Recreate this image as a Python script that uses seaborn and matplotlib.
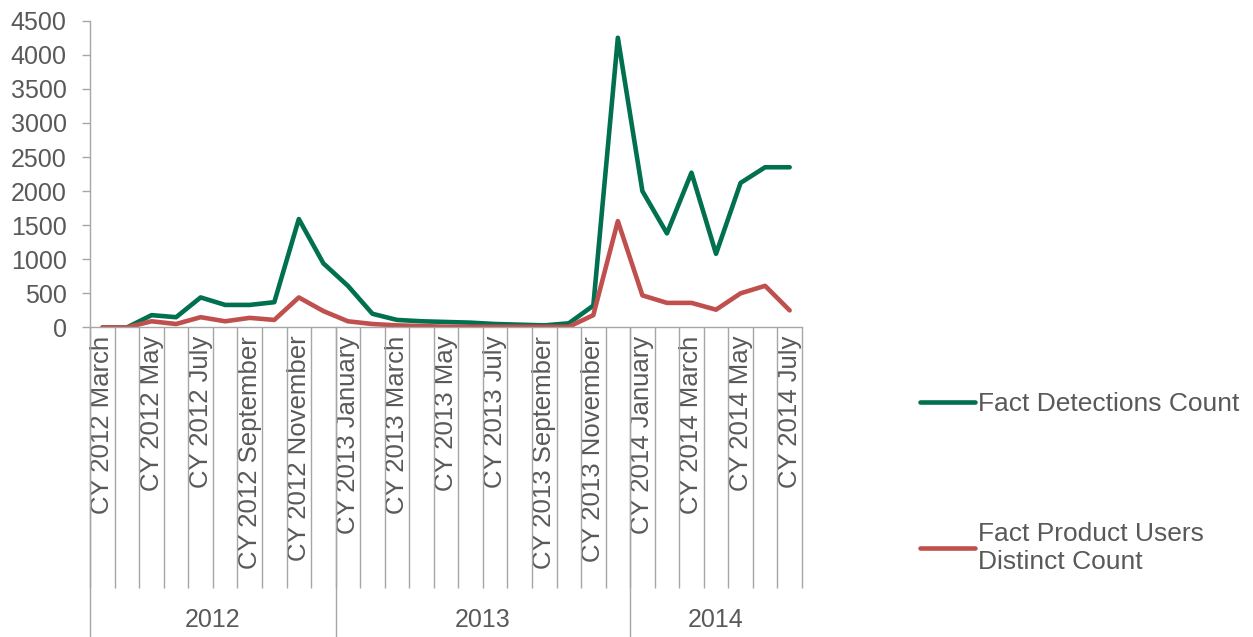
import pandas as pd
import numpy as np
import matplotlib.pyplot as plt
import seaborn as sns

# --- Data ---
months_2012 = ['March', 'April', 'May', 'June', 'July', 'August', 'September', 'October', 'November', 'December']
months_2013 = ['January', 'February', 'March', 'April', 'May', 'June', 'July', 'August', 'September', 'October', 'November', 'December']
months_2014 = ['January', 'February', 'March', 'April', 'May', 'June', 'July']
years = ['2012', '2013', '2014']

categories = ([f'CY 2012 {m}' for m in months_2012]
              + [f'CY 2013 {m}' for m in months_2013]
              + [f'CY 2014 {m}' for m in months_2014])

detections = [0, 0, 180, 150, 440, 330, 330, 370, 1590, 940,
              610, 200, 110, 90, 80, 70, 50, 40, 30, 60, 320, 4250,
              2000, 1380, 2270, 1080, 2120, 2350, 2350]
users = [0, 0, 90, 50, 150, 90, 140, 110, 440, 240,
         90, 50, 30, 20, 10, 10, 10, 10, 10, 10, 180, 1560,
         470, 360, 360, 260, 500, 610, 250]

series_names = ['Fact Detections Count', 'Fact Product Users\nDistinct Count']
colors = ['#00704F', '#C0504D']

df = pd.DataFrame({
    'idx': list(range(len(categories))) * 2,
    'value': detections + users,
    'series': [series_names[0]] * len(categories) + [series_names[1]] * len(categories),
})

sns.set_style('white')
plt.rcParams['font.family'] = ['Liberation Sans', 'DejaVu Sans']
grey = '#595959'
line_grey = '#A6A6A6'

fig = plt.figure(figsize=(12.53, 6.37), dpi=100)
ax = fig.add_axes([0.072, 0.486, 0.568, 0.4815])

sns.lineplot(data=df, x='idx', y='value', hue='series', palette=colors,
             linewidth=3.3, ax=ax, legend=False)

n = len(categories)
ax.set_xlim(-0.5, n - 0.5)
ax.set_ylim(0, 4500)
ax.set_yticks(range(0, 4501, 500))
ax.tick_params(axis='y', left=True, colors=line_grey, labelcolor=grey,
               labelsize=18, length=6, width=1, pad=11)

# category labels every other month, boundary lines as long minor ticks
ax.set_xticks(range(0, n, 2))
ax.set_xticklabels(categories[::2], rotation=90, fontsize=18.5, color=grey)
ax.tick_params(axis='x', which='major', length=0, pad=6)
ax.set_xticks(np.arange(-0.5, n, 1), minor=True)
ax.tick_params(axis='x', which='minor', bottom=True, length=188, width=1,
               color=line_grey, direction='out')

ax.set_xlabel('')
ax.set_ylabel('')
sns.despine(ax=ax)
for side in ['left', 'bottom']:
    ax.spines[side].set_color(line_grey)
    ax.spines[side].set_linewidth(1)

# year grouping row
trans = ax.get_xaxis_transform()
year_sizes = [len(months_2012), len(months_2013), len(months_2014)]
start = -0.5
for yr, size in zip(years, year_sizes):
    ax.plot([start, start], [0, -1.01], transform=trans, color=line_grey,
            linewidth=1, clip_on=False)
    ax.text(start + size / 2, -0.955, yr, transform=trans, ha='center', va='center',
            fontsize=18, color=grey)
    start += size

# legend on the right
handles = [plt.Line2D([], [], color=c, linewidth=3.3) for c in colors]
fig.legend(handles, series_names, loc='center left', bbox_to_anchor=(0.734, 0.2415),
           frameon=False, fontsize=19, labelcolor=grey, handlelength=2.1,
           handletextpad=0.1, labelspacing=4.0, borderpad=0, borderaxespad=0)

plt.savefig('out.png', dpi=100)
plt.close()
